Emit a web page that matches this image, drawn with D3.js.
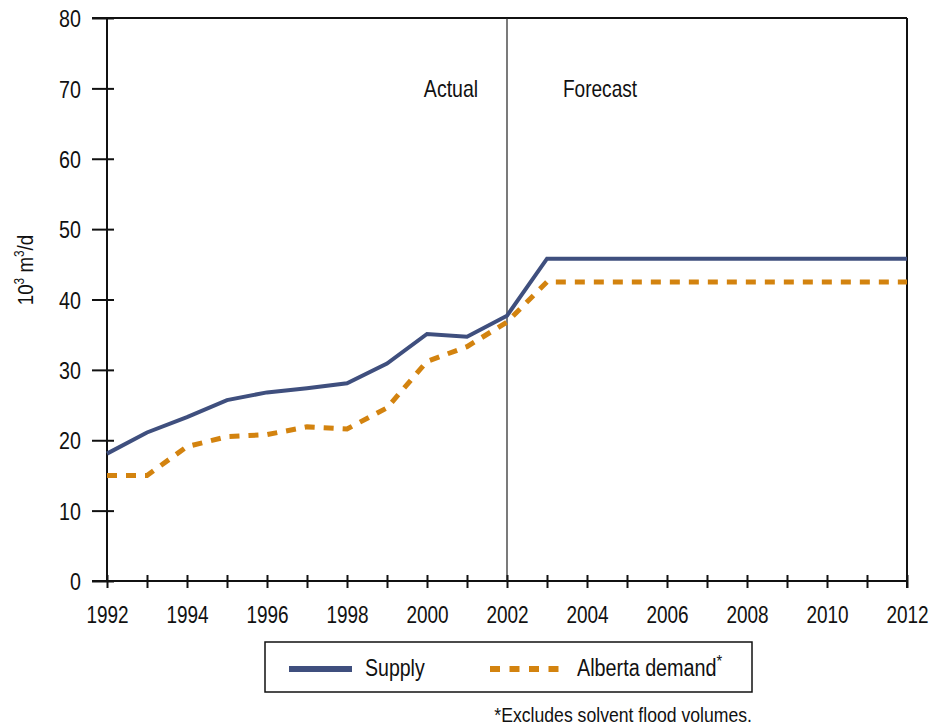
<!DOCTYPE html>
<html>
<head>
<meta charset="utf-8">
<script src="https://cdn.jsdelivr.net/npm/d3@7"></script>
<style>
  html, body { margin: 0; padding: 0; background: #fff; }
  svg text { font-family: "Liberation Sans", Arial, sans-serif; fill: #111; }
</style>
</head>
<body>
<svg id="chart" width="930" height="728"></svg>
<script>
// Annual values, 10^3 m^3/d
const years = [1992, 1993, 1994, 1995, 1996, 1997, 1998, 1999, 2000, 2001, 2002,
               2003, 2004, 2005, 2006, 2007, 2008, 2009, 2010, 2011, 2012];
const supply = [18.1, 21.1, 23.3, 25.7, 26.8, 27.4, 28.1, 30.9, 35.1, 34.7, 37.7,
                45.8, 45.8, 45.8, 45.8, 45.8, 45.8, 45.8, 45.8, 45.8, 45.8];
const demand = [15.0, 15.0, 19.1, 20.5, 20.8, 21.9, 21.6, 24.6, 31.2, 33.3, 36.8,
                42.5, 42.5, 42.5, 42.5, 42.5, 42.5, 42.5, 42.5, 42.5, 42.5];
const yTicks = [0, 10, 20, 30, 40, 50, 60, 70, 80];
const xLabelYears = [1992, 1994, 1996, 1998, 2000, 2002, 2004, 2006, 2008, 2010, 2012];
const splitYear = 2002;
const periodLabels = ["Actual", "Forecast"];
const seriesNames = ["Supply", "Alberta demand"];
const footnote = "*Excludes solvent flood volumes.";

const svg = d3.select("#chart");
const x = d3.scaleLinear().domain([1992, 2012]).range([107, 907]);
const y = d3.scaleLinear().domain([0, 80]).range([581, 18]);

const supplyColor = "#3f4f7e";
const demandColor = "#d3830f";
const NARROW = 0.82;   // horizontal squeeze for a condensed look

// Place a text at (px, py) and squeeze it horizontally
function place(sel, px, py, sx = NARROW) {
  return sel.attr("x", 0).attr("y", 0)
    .attr("transform", `translate(${px},${py}) scale(${sx},1)`);
}

// Y axis: ticks crossing the axis line
const gy = svg.append("g").attr("transform", `translate(${x(1992)},0)`)
  .call(d3.axisLeft(y).tickValues(yTicks).tickSize(0).tickFormat(""));
gy.select(".domain").remove();
gy.selectAll(".tick text").remove();
gy.selectAll(".tick").append("line")
  .attr("x1", -15).attr("x2", 7).attr("stroke", "#111").attr("stroke-width", 2);
gy.selectAll(".tick").append("text")
  .attr("text-anchor", "end").attr("dy", "0.36em")
  .style("font-size", "24px")
  .text(d => d)
  .each(function () { place(d3.select(this), -26, 0); });

// X axis: yearly ticks, labels every two years
const gx = svg.append("g").attr("transform", `translate(0,${y(0)})`)
  .call(d3.axisBottom(x).tickValues(years).tickSize(0).tickFormat(""));
gx.select(".domain").remove();
gx.selectAll(".tick text").remove();
gx.selectAll(".tick").append("line")
  .attr("y1", -6).attr("y2", 7).attr("stroke", "#111").attr("stroke-width", 2);
gx.selectAll(".tick").filter(d => xLabelYears.includes(d)).append("text")
  .attr("text-anchor", "middle")
  .style("font-size", "24px")
  .text(d => d)
  .each(function () { place(d3.select(this), 0, 42, 0.79); });

// Frame: left axis, bottom axis, top and right borders
const frame = svg.append("g").attr("stroke", "#111").attr("stroke-width", 2).attr("fill", "none");
frame.append("line").attr("x1", x(1992)).attr("x2", x(1992)).attr("y1", y(80)).attr("y2", y(0));
frame.append("line").attr("x1", x(1992) - 15).attr("x2", x(2012)).attr("y1", y(0)).attr("y2", y(0));
frame.append("line").attr("x1", x(1992) - 15).attr("x2", x(2012)).attr("y1", y(80)).attr("y2", y(80));
frame.append("line").attr("x1", x(2012)).attr("x2", x(2012)).attr("y1", y(80)).attr("y2", y(0) + 7);

// Actual / forecast divider
svg.append("line")
  .attr("x1", x(splitYear)).attr("x2", x(splitYear))
  .attr("y1", y(80)).attr("y2", y(0))
  .attr("stroke", "#222").attr("stroke-width", 1.2);
place(svg.append("text").attr("text-anchor", "middle").style("font-size", "23px")
  .text(periodLabels[0]), x(splitYear) - 56, 97, 0.85);
place(svg.append("text").attr("text-anchor", "middle").style("font-size", "23px")
  .text(periodLabels[1]), x(splitYear) + 93, 97, 0.83);

// Series lines
const line = d3.line().x((d, i) => x(years[i])).y(d => y(d));
svg.append("path").datum(demand)
  .attr("d", line).attr("fill", "none")
  .attr("stroke", demandColor).attr("stroke-width", 5)
  .attr("stroke-dasharray", "10,9");
svg.append("path").datum(supply)
  .attr("d", line).attr("fill", "none")
  .attr("stroke", supplyColor).attr("stroke-width", 4)
  .attr("stroke-linejoin", "miter");

// Y axis title with superscripts
const yTitle = svg.append("text")
  .attr("transform", "translate(33,270) rotate(-90) scale(0.85,1)")
  .attr("text-anchor", "middle")
  .style("font-size", "22px");
yTitle.append("tspan").text("10");
yTitle.append("tspan").attr("dy", -9).style("font-size", "14px").text("3");
yTitle.append("tspan").attr("dy", 9).text(" m");
yTitle.append("tspan").attr("dy", -9).style("font-size", "14px").text("3");
yTitle.append("tspan").attr("dy", 9).text("/d");

// Legend
const legend = svg.append("g");
legend.append("rect").attr("x", 265).attr("y", 642).attr("width", 487).attr("height", 50)
  .attr("fill", "none").attr("stroke", "#111").attr("stroke-width", 1.5);
legend.append("line").attr("x1", 289).attr("x2", 352).attr("y1", 669).attr("y2", 669)
  .attr("stroke", supplyColor).attr("stroke-width", 6);
place(legend.append("text").style("font-size", "23px").text(seriesNames[0]), 365, 676, 0.85);
legend.append("line").attr("x1", 490).attr("x2", 559).attr("y1", 669).attr("y2", 669)
  .attr("stroke", demandColor).attr("stroke-width", 6).attr("stroke-dasharray", "10,9.5");
const demandLabel = place(legend.append("text").style("font-size", "23px"), 577, 676, 0.86);
demandLabel.append("tspan").text(seriesNames[1]);
demandLabel.append("tspan").attr("dy", -9).style("font-size", "17px").text("*");

// Footnote
place(svg.append("text").attr("text-anchor", "end").style("font-size", "21px")
  .text(footnote), 752, 722, 0.84);
</script>
</body>
</html>
